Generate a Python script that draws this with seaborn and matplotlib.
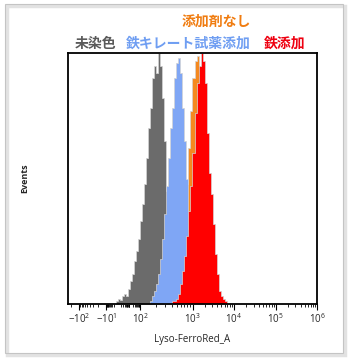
import numpy as np
import pandas as pd
import matplotlib
matplotlib.use("Agg")
import matplotlib.pyplot as plt
import matplotlib.patches as mpatches
import seaborn as sns

sns.set_style("white")
plt.rcParams['font.family'] = ['Open Sans', 'DejaVu Sans']

# ---- data: histogram heights (fraction of mode) in 2-unit display channels ----
channel_width = 2
gray_start = 48      # display channel start for each series
gray_heights = [0.01, 0.02, 0.015, 0.03, 0.04, 0.03, 0.06, 0.09, 0.12, 0.17, 0.21, 0.26,
                0.33, 0.40, 0.48, 0.58, 0.70, 0.78, 0.90, 0.95, 0.92, 1.00, 0.95, 0.82,
                0.65, 0.45, 0.22, 0.08, 0.03]
blue_start = 82
blue_heights = [0.01, 0.03, 0.05, 0.08, 0.12, 0.18, 0.26, 0.36, 0.47, 0.58, 0.70, 0.78,
                0.90, 0.96, 0.98, 0.92, 0.78, 0.65, 0.50, 0.30, 0.12, 0.04, 0.01]
orange_start = 108
orange_heights = [0.02, 0.05, 0.10, 0.18, 0.30, 0.48, 0.62, 0.77, 0.90, 0.97, 0.99, 0.95,
                  0.90, 0.80, 0.66, 0.52, 0.38, 0.26, 0.16, 0.09, 0.05, 0.03, 0.02, 0.01]
red_start = 104
red_heights = [0.01, 0.01, 0.02, 0.04, 0.08, 0.13, 0.19, 0.27, 0.37, 0.47, 0.60, 0.76,
               0.88, 0.95, 1.00, 0.97, 0.88, 0.68, 0.52, 0.44, 0.32, 0.20, 0.12, 0.05,
               0.03, 0.02, 0.01]

fill_colors = {"未染色": "#6b6b6b", "鉄キレート試薬添加": "#7fa6f5",
               "添加剤なし": "#f5891f", "鉄添加": "#ff0000"}
text_colors = {"未染色": "#5a5a5a", "鉄キレート試薬添加": "#6f9ef2",
               "添加剤なし": "#f07c10", "鉄添加": "#ee0010"}

major_ticks = [-100, -10, 100, 1000, 1e4, 1e5, 1e6]
major_labels = [r"$\mathregular{-10^{2}}$", r"$\mathregular{-10^{1}}$", r"$\mathregular{10^{2}}$",
                r"$\mathregular{10^{3}}$", r"$\mathregular{10^{4}}$", r"$\mathregular{10^{5}}$",
                r"$\mathregular{10^{6}}$"]

# ---- biexponential-like display scale ----
S_anchor = np.array([-10, -2.0043, -1.0414, 2.0043, 3.0004, 4.0, 5.0, 6.0, 10])
P_anchor = np.array([-213, 11, 38, 72, 124, 165, 207, 248, 412], dtype=float)


def forward(v):
    v = np.asarray(v, dtype=float)
    s = np.sign(v) * np.log10(1 + np.abs(v))
    return np.interp(s, S_anchor, P_anchor)


def inverse(p):
    p = np.asarray(p, dtype=float)
    s = np.interp(p, P_anchor, S_anchor)
    return np.sign(s) * (10 ** np.abs(s) - 1)


fig = plt.figure(figsize=(3.5, 3.6), dpi=100)
ax = fig.add_axes([68 / 350, 1 - 304 / 360, (317 - 68) / 350, (304 - 53) / 360])

series = {"未染色": (gray_start, gray_heights),
          "鉄キレート試薬添加": (blue_start, blue_heights),
          "添加剤なし": (orange_start, orange_heights),
          "鉄添加": (red_start, red_heights)}

for name in ["未染色", "添加剤なし", "鉄キレート試薬添加", "鉄添加"]:
    start, h = series[name]
    disp_edges = start + channel_width * np.arange(len(h) + 1)
    edges = inverse(disp_edges)
    centers = inverse(disp_edges[:-1] + channel_width / 2)
    df = pd.DataFrame({"value": centers, "w": h})
    sns.histplot(data=df, x="value", weights="w", bins=list(edges), element="step", fill=True,
                 color=fill_colors[name], alpha=1, edgecolor="#d4d4d4", linewidth=0.5, ax=ax)

ax.set_xscale("function", functions=(forward, inverse))
ax.set_xlim(float(inverse(0)), 1e6)
ax.set_ylim(0, 1.0)

ax.set_xticks(major_ticks)
ax.set_xticklabels(major_labels, fontsize=7)
minor = []
for n in range(0, 6):
    for k in range(1, 10):
        val = k * 10 ** n
        if val not in major_ticks and val < 1e6:
            minor.append(val)
        if -val not in major_ticks and -val > float(inverse(0)):
            minor.append(-val)
ax.set_xticks(minor, minor=True)
ax.tick_params(axis="x", which="major", direction="out", length=4, width=0.8, color="black",
               pad=2, bottom=True)
ax.tick_params(axis="x", which="minor", direction="out", length=2, width=0.6, color="black",
               bottom=True)
ax.set_yticks([])
for sp in ax.spines.values():
    sp.set_color("black")
    sp.set_linewidth(1.3)

ax.set_xlabel("Lyso-FerroRed_A", fontsize=7, labelpad=6)
ax.set_ylabel("Events", fontsize=6.5, fontweight="bold", labelpad=28)

# ---- header texts ----
cjk = ['Noto Sans CJK JP', 'DejaVu Sans']
fig.text(216 / 350, 1 - 22 / 360, "添加剤なし", color=text_colors["添加剤なし"], fontsize=10,
         fontweight="bold", ha="center", va="center", family=cjk)
fig.text(75 / 350, 1 - 44 / 360, "未染色", color=text_colors["未染色"], fontsize=10,
         fontweight="bold", ha="left", va="center", family=cjk)
fig.text(126 / 350, 1 - 44 / 360, "鉄キレート試薬添加", color=text_colors["鉄キレート試薬添加"],
         fontsize=10, fontweight="bold", ha="left", va="center", family=cjk)
fig.text(264 / 350, 1 - 44 / 360, "鉄添加", color=text_colors["鉄添加"], fontsize=10,
         fontweight="bold", ha="left", va="center", family=cjk)

# ---- frame around figure ----
fig.patches.append(mpatches.Rectangle((7 / 350, 5 / 360), 338 / 350, 349 / 360,
                                      transform=fig.transFigure, fill=False,
                                      edgecolor="#e2e2e2", linewidth=2.5, zorder=0))
fig.patches.append(mpatches.Rectangle((5 / 350, 7 / 360), 338 / 350, 349 / 360,
                                      transform=fig.transFigure, fill=False,
                                      edgecolor="#c4c4c4", linewidth=0.8, zorder=1))

fig.savefig("out.png", dpi=100)
